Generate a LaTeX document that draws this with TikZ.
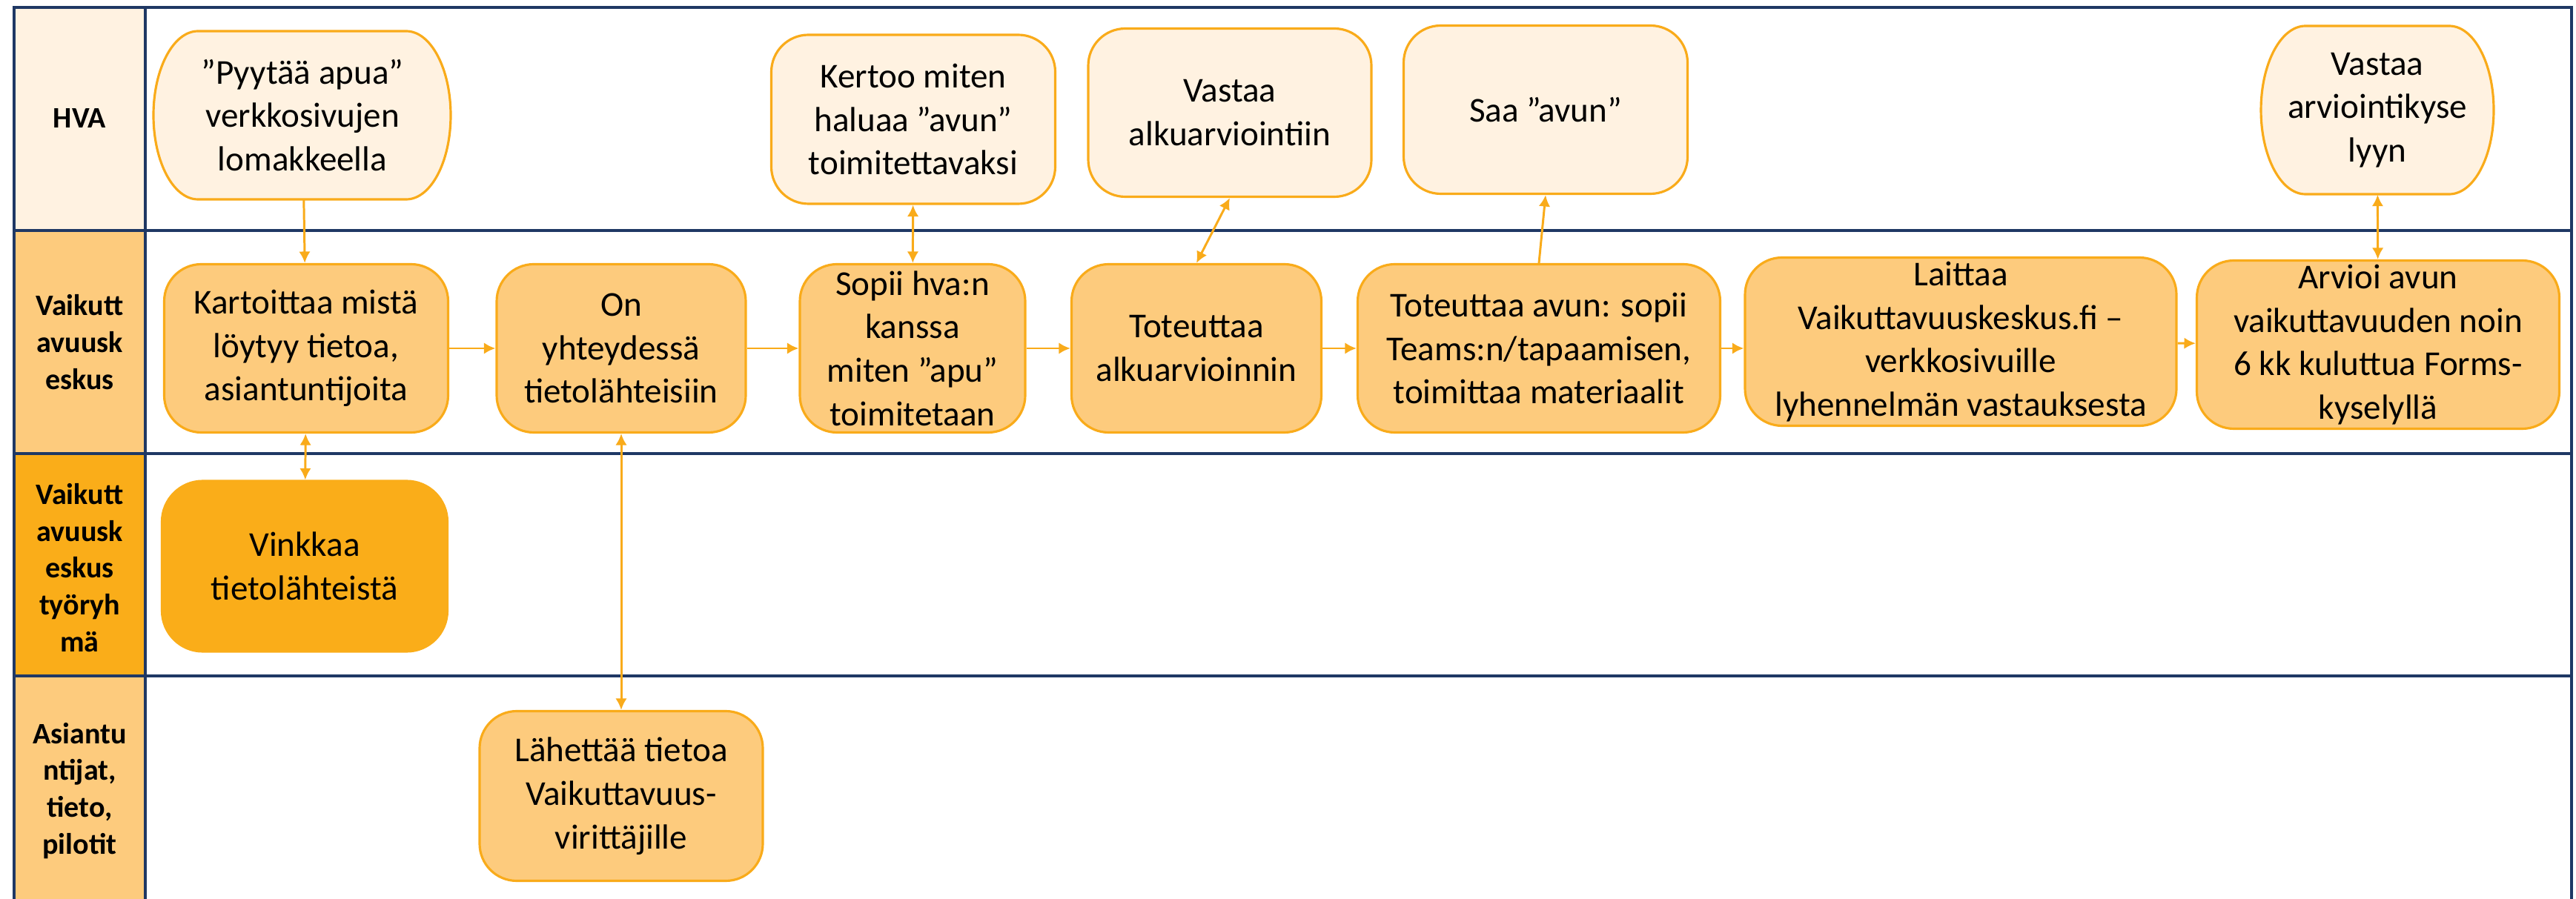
\documentclass[tikz,border=0pt]{standalone}
\usepackage{fontspec}
\setmainfont{Carlito}
\usetikzlibrary{arrows.meta}
\definecolor{lanenavy}{HTML}{1F3864}
\definecolor{hvacream}{HTML}{FFF2E1}
\definecolor{keskusorange}{HTML}{FDCB7D}
\definecolor{ryhmaorange}{HTML}{FAAD19}
\definecolor{lineorange}{HTML}{F9AB1A}
\begin{document}
\begin{tikzpicture}[>={Latex[length=4.4pt,width=4.4pt]},
  every node/.style={align=center, inner sep=0pt, font=\fontsize{13.4}{16.7}\selectfont},
  box/.style={draw=lineorange, line width=0.9pt, rounded corners=0.5cm},
  hvabox/.style={box, fill=hvacream},
  keskusbox/.style={box, fill=keskusorange},
  ryhmabox/.style={box, draw=ryhmaorange, fill=ryhmaorange, rounded corners=0.55cm},
  lanelabel/.style={font=\fontsize{11.4}{14.2}\selectfont\bfseries},
  lane/.style={lanenavy, line width=0.9pt},
  flow/.style={lineorange, line width=0.85pt}]
        \useasboundingbox (0,0) rectangle (34.75,-12.13);

        % swimlanes
        \fill [hvacream] (0.19,-0.10) rectangle (1.96,-3.11);
        \fill [keskusorange] (0.19,-3.11) rectangle (1.96,-6.12);
        \fill [ryhmaorange] (0.19,-6.12) rectangle (1.96,-9.12);
        \fill [keskusorange] (0.19,-9.12) rectangle (1.96,-12.13);
        \draw [lane] (0.19,-12.13) -- (0.19,-0.10) -- (34.69,-0.10) -- (34.69,-12.13);
        \foreach \y in {3.11,6.12,9.12}
            \draw [lane] (0.19,-\y) -- (34.69,-\y);
        \draw [lane] (1.96,-0.10) -- (1.96,-12.13);

        \node [lanelabel] at (1.075,-1.60) (hva) {HVA};
        \node [lanelabel] at (1.075,-4.62) (keskus) {Vaikutt\\avuusk\\eskus};
        \node [lanelabel] at (1.075,-7.66) (ryhma) {Vaikutt\\avuusk\\eskus\\työryh\\mä};
        \node [lanelabel] at (1.075,-10.67) (asiantuntijat) {Asiantu\\ntijat,\\tieto,\\pilotit};

        % HVA
        \filldraw [hvabox, rounded corners=0pt] (2.67,-0.42) -- (5.48,-0.42)
            arc [start angle=90, end angle=-90, x radius=0.6, y radius=1.135] -- (2.67,-2.69)
            arc [start angle=270, end angle=90, x radius=0.6, y radius=1.135] -- cycle;
        \filldraw [hvabox, rounded corners=0pt] (31.10,-0.35) -- (33.04,-0.35)
            arc [start angle=90, end angle=-90, x radius=0.6, y radius=1.135] -- (31.10,-2.62)
            arc [start angle=270, end angle=90, x radius=0.6, y radius=1.135] -- cycle;
        \node [minimum width=4.01cm, minimum height=2.27cm] at (4.08,-1.555) (pyytaa) {”Pyytää apua”\\verkkosivujen\\lomakkeella};
        \node [hvabox, minimum width=3.83cm, minimum height=2.28cm] at (12.32,-1.61) (kertoo) {Kertoo miten\\haluaa ”avun”\\toimitettavaksi};
        \node [hvabox, minimum width=3.82cm, minimum height=2.27cm] at (16.59,-1.52) (alkuvastaus) {Vastaa\\alkuarviointiin};
        \node [hvabox, minimum width=3.83cm, minimum height=2.27cm] at (20.85,-1.48) (saa) {Saa ”avun”};
        \node [minimum width=3.14cm, minimum height=2.27cm] at (32.07,-1.485) (kysely) {Vastaa\\arviointikyse\\lyyn};

        % Vaikuttavuuskeskus
        \node [keskusbox, minimum width=3.83cm, minimum height=2.27cm] at (4.13,-4.70) (kartoittaa) {Kartoittaa mistä\\löytyy tietoa,\\asiantuntijoita};
        \node [keskusbox, minimum width=3.36cm, minimum height=2.27cm] at (8.38,-4.70) (yhteys) {On\\yhteydessä\\tietolähteisiin};
        \node [keskusbox, minimum width=3.04cm, minimum height=2.27cm] at (12.31,-4.70) (sopii) {Sopii hva:n\\kanssa\\miten ”apu”\\toimitetaan};
        \node [keskusbox, minimum width=3.37cm, minimum height=2.27cm] at (16.14,-4.70) (alkuarviointi) {Toteuttaa\\alkuarvioinnin};
        \node [keskusbox, minimum width=4.89cm, minimum height=2.27cm] at (20.76,-4.70) (toteutus) {Toteuttaa avun: sopii\\Teams:n/tapaamisen,\\toimittaa materiaalit};
        \node [keskusbox, minimum width=5.82cm, minimum height=2.27cm] at (26.45,-4.61) (laittaa) {Laittaa\\Vaikuttavuuskeskus.fi –\\verkkosivuille\\lyhennelmän vastauksesta};
        \node [keskusbox, minimum width=4.89cm, minimum height=2.27cm] at (32.08,-4.65) (arvioi) {Arvioi avun\\vaikuttavuuden noin\\6 kk kuluttua Forms-\\kyselyllä};

        % tyoryhma, asiantuntijat
        \node [ryhmabox, minimum width=3.85cm, minimum height=2.30cm] at (4.11,-7.64) (vinkkaa) {Vinkkaa\\tietolähteistä};
        \node [keskusbox, minimum width=3.82cm, minimum height=2.29cm] at (8.38,-10.74) (lahettaa) {Lähettää tietoa\\Vaikuttavuus-\\virittäjille};

        \draw [flow, ->] (pyytaa) -- (kartoittaa);
        \draw [flow, ->] (kartoittaa) -- (yhteys);
        \draw [flow, ->] (yhteys) -- (sopii);
        \draw [flow, ->] (sopii) -- (alkuarviointi);
        \draw [flow, ->] (alkuarviointi) -- (toteutus);
        \draw [flow, ->] (toteutus) -- (toteutus -| laittaa.west);
        \draw [flow, ->] (laittaa) -- (arvioi);
        \draw [flow, <->] (kertoo) -- (sopii);
        \draw [flow, <->] (alkuvastaus.south) -- (alkuarviointi.north);
        \draw [flow, ->] (toteutus.north) -- (saa.south);
        \draw [flow, <->] (kysely) -- (arvioi);
        \draw [flow, <->] (kartoittaa) -- (vinkkaa);
        \draw [flow, <->] (yhteys) -- (lahettaa);

\end{tikzpicture}
\end{document}
